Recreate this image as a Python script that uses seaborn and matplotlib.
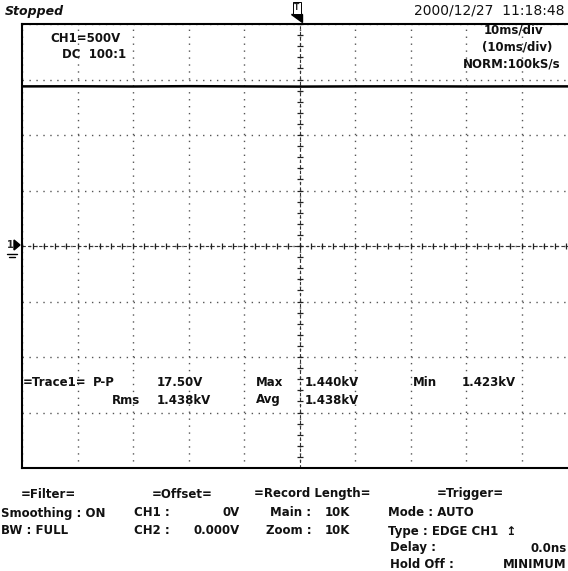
import numpy as np
import pandas as pd
import matplotlib
matplotlib.use('Agg')
import matplotlib.pyplot as plt
from matplotlib.patches import Polygon
import seaborn as sns

# trace readings (CH1, 500V/div, 10ms/div)
time_ms = [-50, -40, -30, -20, -10, 0, 10, 20, 30, 40, 50]
volts = [1438, 1439, 1437, 1440, 1438, 1436, 1438, 1439, 1437, 1438, 1438]

# screen scale
x_divs = [-50, -40, -30, -20, -10, 0, 10, 20, 30, 40, 50]
y_divs = [-2000, -1500, -1000, -500, 0, 500, 1000, 1500, 2000]

W, H = 568, 571

def px(x, y):
    return x / W, 1 - y / H

sns.set_style('white')
plt.rcParams['font.family'] = ['DejaVu Sans']

fig = plt.figure(figsize=(W / 100, H / 100), dpi=100)
ax = fig.add_axes([22 / W, 1 - 468 / H, 555 / W, 444 / H])

data = pd.DataFrame({'t': time_ms, 'v': volts})
sns.lineplot(data=data, x='t', y='v', color='black', linewidth=1.8, ax=ax)

ax.set_xlim(-50, 50)
ax.set_ylim(-2000, 2000)
ax.set_xticks(x_divs)
ax.set_yticks(y_divs)
ax.set_xticklabels([])
ax.set_yticklabels([])
ax.tick_params(length=0)
ax.set_xlabel('')
ax.set_ylabel('')
ax.grid(True, linestyle=(0, (1, 4)), color='#555555', linewidth=1.0)
for s in ax.spines.values():
    s.set_color('black')
    s.set_linewidth(1.5)

# centre crosshair with sub-division ticks
ax.axhline(0, color='#333333', linewidth=0.8, linestyle=(0, (3, 2)))
ax.axvline(0, color='#333333', linewidth=0.8, linestyle=(0, (3, 2)))
sub_x = np.arange(-50, 50.1, 2)
sub_y = np.arange(-2000, 2000.1, 100)
ax.plot(sub_x, np.zeros_like(sub_x), linestyle='none', marker='|', markersize=5, color='#222222', mew=0.9)
ax.plot(np.zeros_like(sub_y), sub_y, linestyle='none', marker='_', markersize=5, color='#222222', mew=0.9)

fs = 8.5
kw = dict(fontsize=fs, fontweight='bold', color='#111111', va='center')

# header
fig.text(*px(5, 12), 'Stopped', fontsize=9, fontweight='bold', style='italic', va='center', color='#111111')
fig.text(*px(565, 10), '2000/12/27  11:18:48', ha='right', fontsize=10, color='#111111', va='center')

# trigger marker at top of centre line
fig.text(*px(297, 8), 'T', ha='center', fontsize=5.5, fontweight='bold', va='center',
         bbox=dict(boxstyle='square,pad=0.15', fc='white', ec='black', lw=0.7))
fig.add_artist(Polygon([px(291, 14), px(302, 14), px(302, 22)], closed=True,
                       transform=fig.transFigure, color='black'))

# channel ground marker
fig.text(*px(10, 245), '1', ha='center', fontsize=7, fontweight='bold', va='center')
fig.add_artist(Polygon([px(14, 240), px(14, 250), px(20, 245)], closed=True,
                       transform=fig.transFigure, color='black'))
fig.add_artist(plt.Line2D([px(7, 254)[0], px(17, 254)[0]], [px(7, 254)[1], px(17, 254)[1]],
                          transform=fig.transFigure, color='black', lw=1))
fig.add_artist(plt.Line2D([px(9, 257)[0], px(15, 257)[0]], [px(9, 257)[1], px(15, 257)[1]],
                          transform=fig.transFigure, color='black', lw=1))

# screen annotations
fig.text(*px(50, 39), 'CH1=500V', **kw)
fig.text(*px(62, 55), 'DC  100:1', **kw)
fig.text(*px(543, 30), '10ms/div', ha='right', **kw)
fig.text(*px(552, 47), '(10ms/div)', ha='right', **kw)
fig.text(*px(560, 64), 'NORM:100kS/s', ha='right', **kw)

fig.text(*px(23, 382), '=Trace1=', **kw)
fig.text(*px(93, 382), 'P-P', **kw)
fig.text(*px(157, 382), '17.50V', **kw)
fig.text(*px(256, 382), 'Max', **kw)
fig.text(*px(305, 382), '1.440kV', **kw)
fig.text(*px(413, 382), 'Min', **kw)
fig.text(*px(462, 382), '1.423kV', **kw)
fig.text(*px(112, 400), 'Rms', **kw)
fig.text(*px(157, 400), '1.438kV', **kw)
fig.text(*px(256, 400), 'Avg', **kw)
fig.text(*px(305, 400), '1.438kV', **kw)

# settings panel
fig.text(*px(48, 494), '=Filter=', ha='center', **kw)
fig.text(*px(182, 494), '=Offset=', ha='center', **kw)
fig.text(*px(312, 494), '=Record Length=', ha='center', **kw)
fig.text(*px(470, 494), '=Trigger=', ha='center', **kw)

fig.text(*px(1, 513), 'Smoothing : ON', **kw)
fig.text(*px(1, 531), 'BW : FULL', **kw)
fig.text(*px(134, 513), 'CH1 :', **kw)
fig.text(*px(240, 513), '0V', ha='right', **kw)
fig.text(*px(134, 531), 'CH2 :', **kw)
fig.text(*px(240, 531), '0.000V', ha='right', **kw)
fig.text(*px(270, 513), 'Main :', **kw)
fig.text(*px(350, 513), '10K', ha='right', **kw)
fig.text(*px(266, 531), 'Zoom :', **kw)
fig.text(*px(350, 531), '10K', ha='right', **kw)
fig.text(*px(388, 513), 'Mode : AUTO', **kw)
fig.text(*px(388, 531), 'Type : EDGE CH1  \u21a5', **kw)
fig.text(*px(390, 548), 'Delay :', **kw)
fig.text(*px(567, 548), '0.0ns', ha='right', **kw)
fig.text(*px(390, 564), 'Hold Off :', **kw)
fig.text(*px(567, 564), 'MINIMUM', ha='right', **kw)

fig.savefig('out.png', dpi=100)
